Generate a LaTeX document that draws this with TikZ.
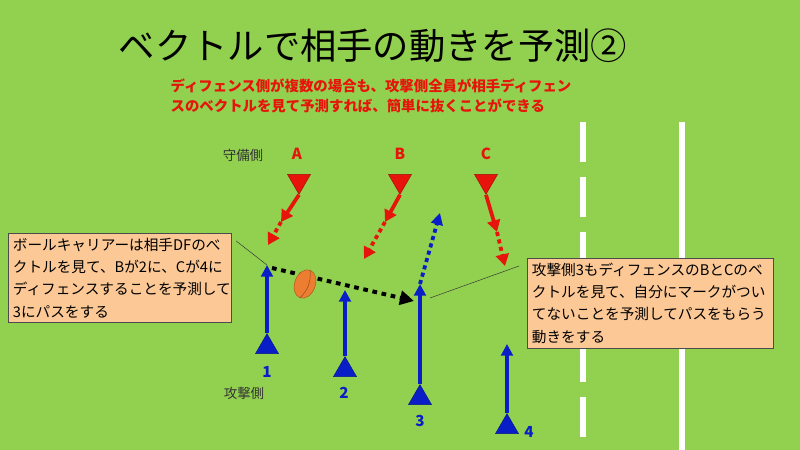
\documentclass[tikz,border=0pt]{standalone}
\usepackage{fontspec}
\setmainfont{Noto Sans CJK JP}
\usetikzlibrary{shapes.geometric,arrows.meta}
\definecolor{field}{RGB}{146,208,80}
\definecolor{boxfill}{RGB}{252,200,150}
\definecolor{dfred}{RGB}{230,20,10}
\definecolor{atblue}{RGB}{10,30,200}
\definecolor{ballc}{RGB}{237,125,49}
\tikzset{
    dfman/.style = {regular polygon, regular polygon sides=3, shape border rotate=180,
        fill=dfred, draw=dfred!70!black, minimum size=0.8cm, inner sep=0pt},
    atman/.style = {regular polygon, regular polygon sides=3,
        fill=atblue, draw=atblue!70!black, minimum size=0.8cm, inner sep=0pt},
    dfrun/.style = {draw=dfred, line width=3.2pt, -{Triangle[length=10pt,width=11pt]}},
    dfguess/.style = {dfrun, dash pattern=on 3.5pt off 3pt},
    atrun/.style = {draw=atblue, line width=3.2pt, -{Triangle[length=10pt,width=10pt]}},
    atguess/.style = {atrun, dash pattern=on 3.5pt off 3pt},
    pass/.style = {draw=black, line width=3.4pt, dash pattern=on 4pt off 4pt, -{Triangle[length=12pt,width=12pt]}},
    note/.style = {draw=black!70, fill=boxfill, text width=#1, align=left, anchor=north west,
        inner sep=4pt, font=\fontsize{12.5}{19}\selectfont},
    letter/.style = {font=\bfseries\fontsize{13}{13}\selectfont},
    side/.style = {font=\fontsize{11.5}{12}\selectfont, text=black!80}
}
\begin{document}
\begin{tikzpicture}[x=0.03cm,y=-0.03cm]
    \fill[field] (0,0) rectangle (800,450);
    \useasboundingbox (0,0) rectangle (800,450);
    % touch lines
    \draw[white, line width=4.3pt, dash pattern=on 34pt off 13pt] (583,122) -- (583,450);
    \draw[white, line width=4.3pt] (682,122) -- (682,450);
    % title
    \node (title) at (373,46) {\fontsize{31}{31}\selectfont ベクトルで相手の動きを予測②};
    \node[text=dfred, align=left, font=\bfseries\fontsize{12.3}{17}\selectfont] (lead) at (371,96)
        {ディフェンス側が複数の場合も、攻撃側全員が相手ディフェン\\スのベクトルを見て予測すれば、簡単に抜くことができる};
    % defence
    \node[side] (dflabel) at (243,155) {守備側};
    \node[dfman] (A) at (299,181) {};
    \node[dfman] (B) at (400,181) {};
    \node[dfman] (C) at (486,181) {};
    \node[letter, text=dfred] at (297,154) {A};
    \node[letter, text=dfred] at (400,154) {B};
    \node[letter, text=dfred] at (486,154) {C};
    \coordinate (a1) at (281,222); \coordinate (a2) at (268,245);
    \coordinate (b1) at (385,222); \coordinate (b2) at (364,259);
    \coordinate (c1) at (497,232); \coordinate (c2) at (505,266);
    \draw[dfrun] (A.south) -- (a1);
    \draw[dfguess] (a1) -- (a2);
    \draw[dfrun] (B.south) -- (b1);
    \draw[dfguess] (b1) -- (b2);
    \draw[dfrun] (C.south) -- (c1);
    \draw[dfguess] (c1) -- (c2);
    % attack
    \node[atman] (p1) at (267,347) {};
    \node[atman] (p2) at (345,370) {};
    \node[atman] (p3) at (420,398) {};
    \node[atman] (p4) at (507,427) {};
    \node[letter, text=atblue] at (267,372) {1};
    \node[letter, text=atblue] at (344,393) {2};
    \node[letter, text=atblue] at (420,421) {3};
    \node[letter, text=atblue] at (529,432) {4};
    \node[side] (atlabel) at (244,393) {攻撃側};
    \coordinate (p1e) at (267,265);
    \coordinate (p2e) at (345,290);
    \coordinate (p3e) at (420,284);
    \coordinate (p3f) at (440,213);
    \coordinate (p4e) at (507,344);
    \draw[atrun] (p1.north) -- (p1e);
    \draw[atrun] (p2.north) -- (p2e);
    \draw[atrun] (p3.north) -- (p3e);
    \draw[atguess] (p3e) -- (p3f);
    \draw[atrun] (p4.north) -- (p4e);
    % pass
    \coordinate (from) at (272,268);
    \coordinate (to) at (414,301);
    \draw[pass] (from) -- (to);
    \node[ellipse, fill=ballc, draw=ballc!70!black, minimum width=0.62cm, minimum height=0.88cm,
        rotate=-20, inner sep=0pt] (ball) at (305,284) {};
    \draw[ballc!60!black, thin] (ball.north) to[bend left=25] (ball.south);
    % notes
    \node[note=6.4cm] (lnote) at (8,233)
        {ボールキャリアーは相手DFのべ\\クトルを見て、Bが2に、Cが4に\\ディフェンスすることを予測して\\3にパスをする\\[14pt]};
    \node[note=7.1cm] (rnote) at (527,258)
        {攻撃側3もディフェンスのBとCのベ\\クトルを見て、自分にマークがつい\\てないことを予測してパスをもらう\\動きをする\\[24pt]};
    \draw[black!80, thin] (lnote.north east) ++(5,8) -- (p1e);
    \draw[black!80, thin] (rnote.north west) ++(-8,8) -- (430,298);
\end{tikzpicture}
\end{document}
